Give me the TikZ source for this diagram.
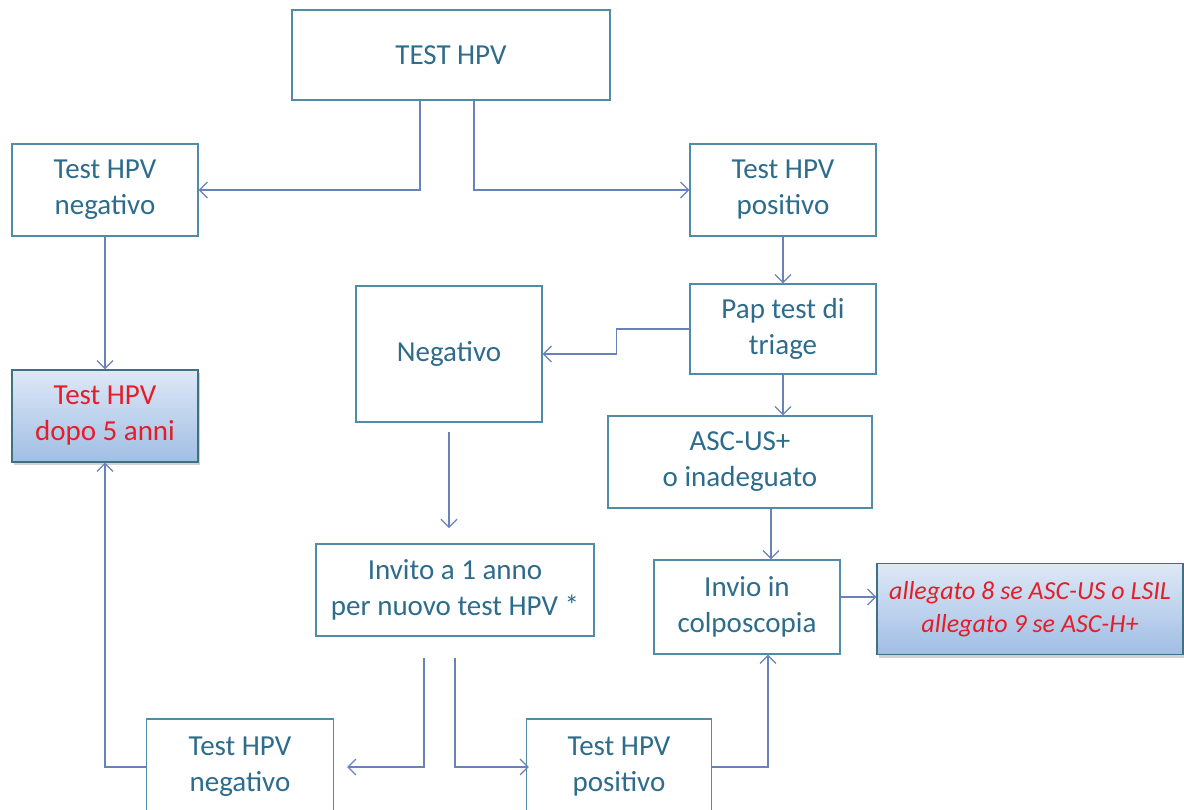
\documentclass[tikz,border=0pt]{standalone}
\usepackage{fontspec}
\setmainfont{Carlito}
\usetikzlibrary{arrows.meta,shadows}
\definecolor{txtc}{RGB}{46,108,140}
\definecolor{bordc}{RGB}{80,140,165}
\definecolor{arrc}{RGB}{105,130,185}
\definecolor{redc}{RGB}{228,30,40}
\definecolor{gtop}{RGB}{222,232,246}
\definecolor{gbot}{RGB}{160,190,228}
\newcommand{\mainsz}{\fontsize{29}{36}\selectfont}
\newcommand{\smallsz}{\fontsize{26}{33}\selectfont}
\tikzset{
  box/.style={draw=bordc, line width=1.2pt, fill=white, text=txtc, font=\mainsz, align=center, inner sep=0pt},
  gbox/.style={draw=bordc!80!black, line width=1.2pt, top color=gtop, bottom color=gbot, text=redc, align=center, inner sep=0pt,
    drop shadow={shadow xshift=2pt, shadow yshift=-3pt, opacity=0.35, fill=gray}},
  arr/.style={draw=arrc, line width=1.3pt, -{Straight Barb[length=8pt,width=16pt,line width=1.2pt]}},
  ln/.style={draw=arrc, line width=1.3pt}
}
\begin{document}
\begin{tikzpicture}[x=1pt,y=-1pt]
\clip (0,0) rectangle (1184,809);
\fill[white] (0,0) rectangle (1184,809);
\node[box, minimum width=318, minimum height=90] (top) at (451,55) {TEST HPV};
\node[box, minimum width=186, minimum height=92] (neg1) at (105,190) {Test HPV\\negativo};
\node[box, minimum width=186, minimum height=92] (pos1) at (783,190) {Test HPV\\positivo};
\node[box, minimum width=186, minimum height=90] (pap) at (783,329) {Pap test di\\triage};
\node[box, minimum width=186, minimum height=136] (negv) at (449,354) {Negativo};
\node[gbox, font=\mainsz, minimum width=186, minimum height=92] (dopo) at (105,416) {Test HPV\\dopo 5 anni};
\node[box, minimum width=264, minimum height=92] (asc) at (740,462) {ASC-US+\\o inadeguato};
\node[box, minimum width=278, minimum height=92] (inv) at (455,590) {Invito a 1 anno\\per nuovo test HPV *};
\node[box, minimum width=186, minimum height=94] (invio) at (747,607) {Invio in\\colposcopia};
\node[gbox, font=\smallsz\itshape, minimum width=306, minimum height=91] (alleg) at (1030,609) {allegato 8 se ASC-US o LSIL\\allegato 9 se ASC-H+};
\node[box, minimum width=187, minimum height=96] (negb) at (240,767) {Test HPV\\negativo};
\node[box, minimum width=185, minimum height=96] (posb) at (619,767) {Test HPV\\positivo};
\coordinate (c1) at (449,432);
\coordinate (c2) at (449,528);
\coordinate (d1) at (424,658);
\coordinate (d2) at (455,658);
\draw[arr] ([xshift=-31]top.south) |- (neg1.east);
\draw[arr] ([xshift=23]top.south) |- (pos1.west);
\draw[arr] (neg1.south) -- (dopo.north);
\draw[arr] (pos1.south) -- (pap.north);
\draw[arr] (pap.west) -- ++(-73,0) |- (negv.east);
\draw[arr] (pap.south) -- (asc.north -| pap.south);
\draw[arr] (c1) -- (c2);
\draw[arr] ([xshift=31]asc.south) -- ([xshift=31]asc.south |- invio.north);
\draw[arr] ([yshift=10]invio.east) -- ([yshift=10]invio.east -| alleg.west);
\draw[arr] (d1) |- ([xshift=13]negb.east);
\draw[arr] (d2) |- ([xshift=3]posb.west);
\draw[arr] (posb.east) -| ([xshift=21]invio.south);
\draw[arr] (negb.west) -| (dopo.south);
\end{tikzpicture}
\end{document}
